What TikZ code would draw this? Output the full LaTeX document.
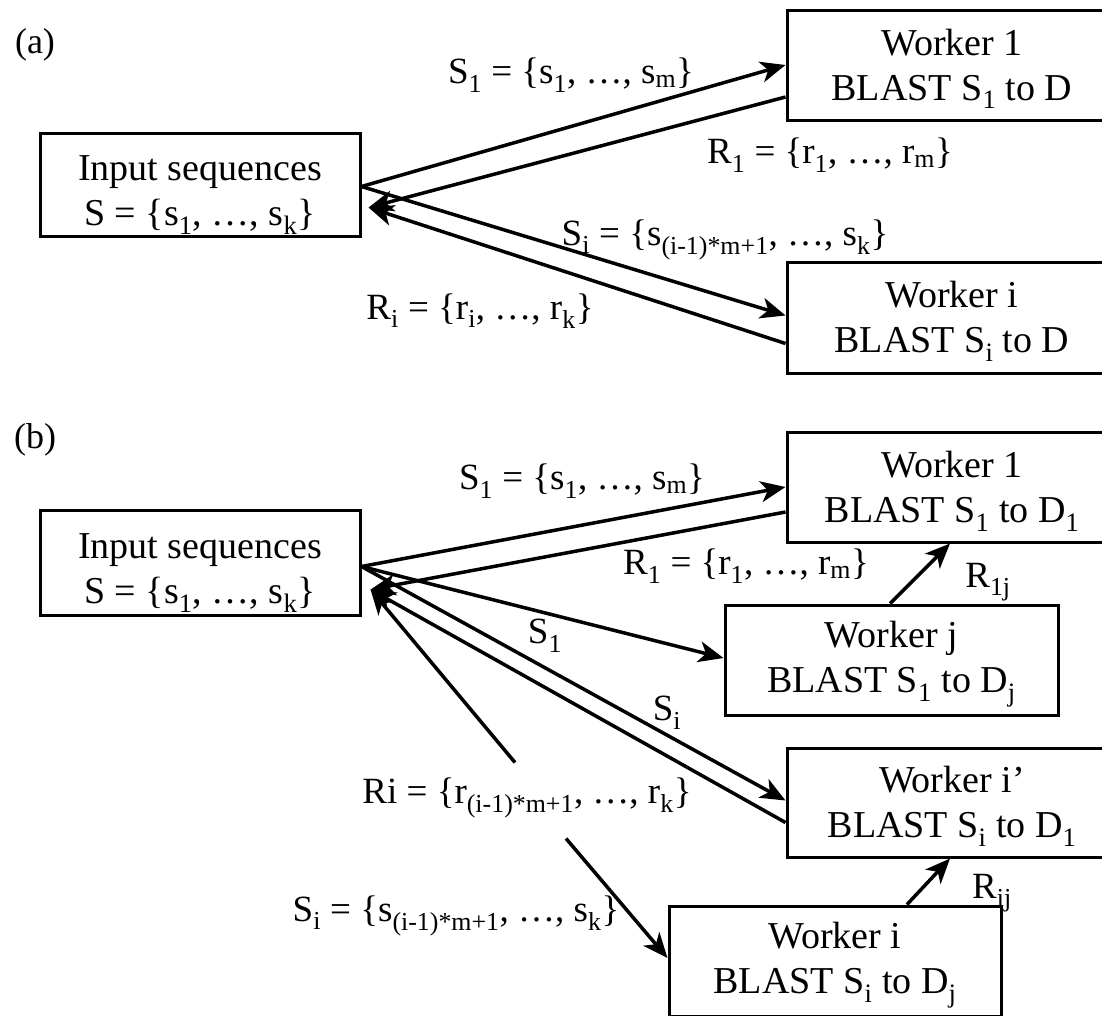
\documentclass[tikz,border=0pt]{standalone}
\usepackage{fontspec}
\setmainfont{Liberation Serif}
\usetikzlibrary{arrows.meta}
\newcommand{\sbx}[1]{\textsubscript{#1}}
% struts that set the first line of a box a little lower
\newcommand{\lowA}{\rule{0pt}{46pt}}
\newcommand{\lowB}{\rule{0pt}{34pt}}
\begin{document}
\begin{tikzpicture}[x=1pt,y=-1pt,
  box/.style={draw,line width=3pt,inner sep=0pt,align=center,
    font=\fontsize{38}{45}\selectfont},
  lbl/.style={inner sep=0pt,font=\fontsize{37}{44}\selectfont},
  conn/.style={line width=3.5pt,-{Stealth[length=25pt,width=21pt,inset=7pt]}}]
\useasboundingbox (0,0) rectangle (1102,1015);
\clip (0,0) rectangle (1102,1015);

% ---------- (a) ----------
\node[lbl,font=\fontsize{36}{40}\selectfont] (tagA) at (35,45) {(a)};
\node[box,minimum width=320pt,minimum height=103pt] (inA) at (200,184.5)
  {\lowA Input sequences\\S = \{s\sbx{1}, \dots, s\sbx{k}\}};
\node[box,minimum width=330pt,minimum height=110pt] (w1A) at (952,65)
  {\lowB Worker 1\\BLAST S\sbx{1} to D};
\node[box,minimum width=330pt,minimum height=111pt] (wiA) at (952,317.5)
  {\lowB Worker i\\BLAST S\sbx{i} to D};

\coordinate (outA) at ([yshift=-2pt]inA.east);
\coordinate (backA) at ([xshift=7pt,yshift=-23pt]inA.east);

\draw[conn] (outA) -- (w1A.west);
\draw[conn] ([yshift=-32pt]w1A.west) -- (backA);
\draw[conn] (outA) -- ([yshift=2pt]wiA.west);
\draw[conn] ([yshift=-26pt]wiA.west) -- (backA);

\node[lbl] (s1A) at (571,75) {S\sbx{1} = \{s\sbx{1}, \dots, s\sbx{m}\}};
\node[lbl] (r1A) at (830,155) {R\sbx{1} = \{r\sbx{1}, \dots, r\sbx{m}\}};
\node[lbl] (siA) at (725,240) {S\sbx{i} = \{s\sbx{(i-1)*m+1}, \dots, s\sbx{k}\}};
\node[lbl] (riA) at (480,311) {R\sbx{i} = \{r\sbx{i}, \dots, r\sbx{k}\}};

% ---------- (b) ----------
\node[lbl,font=\fontsize{36}{40}\selectfont] (tagB) at (35,440) {(b)};
\node[box,minimum width=320pt,minimum height=105pt] (inB) at (200,562.5)
  {\lowA Input sequences\\S = \{s\sbx{1}, \dots, s\sbx{k}\}};
\node[box,minimum width=330pt,minimum height=110pt] (w1B) at (952,487)
  {\lowB Worker 1\\BLAST S\sbx{1} to D\sbx{1}};
\node[box,minimum width=333pt,minimum height=110pt] (wjB) at (891.5,660)
  {\lowB Worker j\\BLAST S\sbx{1} to D\sbx{j}};
\node[box,minimum width=330pt,minimum height=109pt] (wipB) at (952,802.5)
  {\lowB Worker i’\\BLAST S\sbx{i} to D\sbx{1}};
\node[box,minimum width=332pt,minimum height=110pt] (wiB) at (835,961)
  {\lowB Worker i\\BLAST S\sbx{i} to D\sbx{j}};

\coordinate (outB) at ([yshift=-4pt]inB.east);
\coordinate (backB) at ([xshift=9pt,yshift=-27pt]inB.east);

\node[lbl] (s1B) at (582,481) {S\sbx{1} = \{s\sbx{1}, \dots, s\sbx{m}\}};
\node[lbl] (r1B) at (746,566) {R\sbx{1} = \{r\sbx{1}, \dots, r\sbx{m}\}};
\node[lbl] (s1jB) at (545,636) {S\sbx{1}};
\node[lbl] (siB) at (667,713) {S\sbx{i}};
\node[lbl] (riB) at (527,798) {Ri = \{r\sbx{(i-1)*m+1}, \dots, r\sbx{k}\}};
\node[lbl] (sibB) at (456,916) {S\sbx{i} = \{s\sbx{(i-1)*m+1}, \dots, s\sbx{k}\}};
\node[lbl] (r1jB) at (988,582) {R\sbx{1j}};
\node[lbl] (rijB) at (992,893) {R\sbx{ij}};

\draw[conn] (outB) -- (w1B.west);
\draw[conn] ([yshift=-25pt]w1B.west) -- (backB);
\draw[conn] (outB) -- ([yshift=2pt]wjB.west);
\draw[conn] (outB) -- ([yshift=2pt]wipB.west);
\draw[conn] ([yshift=-20pt]wipB.west) -- (backB);
\draw[conn] ([xshift=-12pt,yshift=15pt]riB.north) -- (backB);
\draw[conn] ([xshift=39pt,yshift=-20pt]riB.south) -- ([yshift=3pt]wiB.west);
\draw[conn] ([xshift=-1.5pt]wjB.north) -- ([xshift=-2pt]w1B.south);
\draw[conn] ([xshift=72pt]wiB.north) -- ([xshift=-2pt]wipB.south);
\end{tikzpicture}
\end{document}
